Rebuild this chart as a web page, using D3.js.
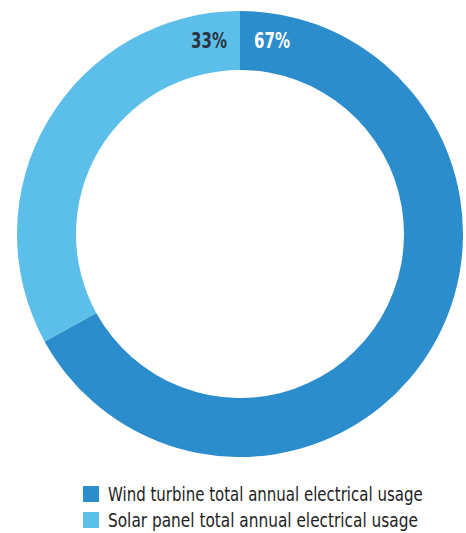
<!DOCTYPE html>
<html>
<head>
<meta charset="utf-8">
<script src="https://cdn.jsdelivr.net/npm/d3@7"></script>
<style>
  html, body { margin: 0; padding: 0; background: #ffffff; }
  svg { display: block; }
</style>
</head>
<body>
<svg id="chart" width="466" height="533"></svg>
<script>
// Share of total annual electrical usage by source
const categories = ["Wind turbine total annual electrical usage", "Solar panel total annual electrical usage"];
const shares = [67, 33];
const labels = ["67%", "33%"];
const colors = ["#2b8dcc", "#5cbfea"];
const labelColors = ["#ffffff", "#2a3440"];

const width = 466, height = 533;
const cx = 240, cy = 234;
const outerR = 223, innerR = 164;

const svg = d3.select("#chart");
const g = svg.append("g").attr("transform", `translate(${cx},${cy})`);

const pie = d3.pie().sort(null).value(d => d);
const arcs = pie(shares);
const arc = d3.arc().innerRadius(innerR).outerRadius(outerR);

g.selectAll("path.slice")
  .data(arcs)
  .join("path")
  .attr("class", "slice")
  .attr("d", arc)
  .attr("fill", (d, i) => colors[i]);

const font = "'DejaVu Sans Condensed', 'DejaVu Sans', sans-serif";

// Place a text node at (x, y) and squeeze it horizontally to the given width
function placeNarrow(sel, x, y, targetW) {
  const w = sel.node().getComputedTextLength();
  const s = w > 0 ? targetW / w : 1;
  sel.attr("x", 0).attr("y", 0)
    .attr("transform", `translate(${x},${y}) scale(${s},1)`);
}

// Percentage labels sit at mid-ring on either side of the 12 o'clock seam
const midR = (innerR + outerR) / 2;
arcs.forEach((d, i) => {
  const seam = i === 0 ? d.startAngle : d.endAngle;
  const x = Math.sin(seam) * midR;
  const y = -Math.cos(seam) * midR;
  const t = g.append("text")
    .attr("text-anchor", i === 0 ? "start" : "end")
    .attr("font-family", font)
    .attr("font-weight", "bold")
    .attr("font-size", 21)
    .attr("fill", labelColors[i])
    .text(labels[i]);
  placeNarrow(t, i === 0 ? x + 14 : x - 13, y + 7.5, 36);
});

// Legend
const legend = svg.append("g").attr("transform", "translate(83,486)");
categories.forEach((c, i) => {
  const row = legend.append("g").attr("transform", `translate(0,${i * 26})`);
  row.append("rect")
    .attr("width", 16).attr("height", 16)
    .attr("fill", colors[i]);
  const t = row.append("text")
    .attr("font-family", font)
    .attr("font-size", 19)
    .attr("fill", "#1e1e1e")
    .text(c);
  placeNarrow(t, 25, 14.5, i === 0 ? 315 : 310);
});
</script>
</body>
</html>
